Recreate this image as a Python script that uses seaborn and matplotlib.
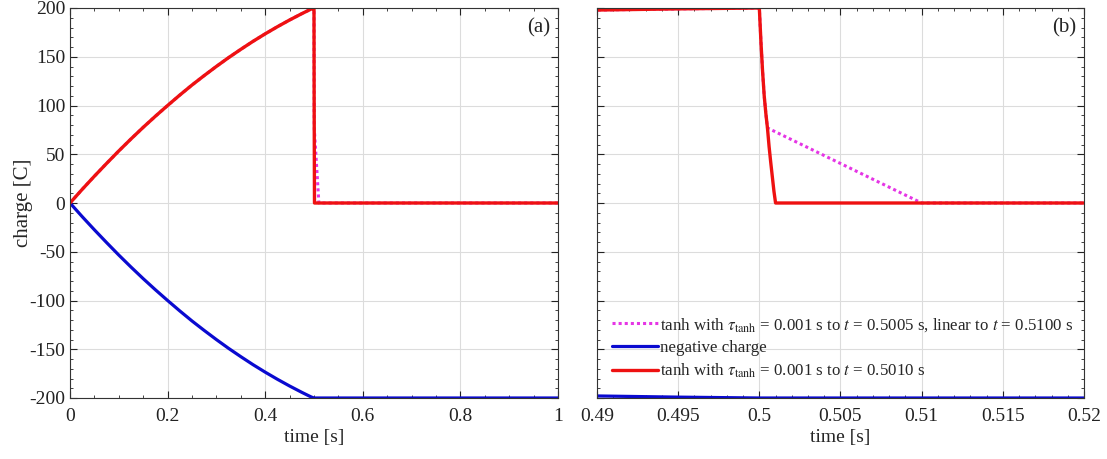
import numpy as np
import pandas as pd
import matplotlib
matplotlib.use("Agg")
import matplotlib.pyplot as plt
from matplotlib.ticker import MultipleLocator
import seaborn as sns

# ---- data -------------------------------------------------------------
# charging phase, 0 .. 0.5 s
t_charge = [0.0, 0.025, 0.05, 0.075, 0.10, 0.125, 0.15, 0.175, 0.20, 0.225,
            0.25, 0.275, 0.30, 0.325, 0.35, 0.375, 0.40, 0.425, 0.45, 0.475,
            0.49, 0.495, 0.50]
q_pos_charge = [0.0, 14.0, 27.5, 40.6, 53.4, 65.7, 77.6, 89.0, 100.0, 110.7,
                121.0, 130.7, 140.1, 149.1, 157.6, 165.8, 173.5, 180.8, 187.7, 194.2,
                197.9, 199.1, 200.0]
q_neg_charge = [0.0, -14.0, -27.5, -40.6, -53.4, -65.7, -77.6, -89.0, -100.0, -110.7,
                -121.0, -130.7, -140.1, -149.1, -157.6, -165.8, -173.5, -180.8, -187.7, -194.2,
                -197.9, -199.1, -200.0]

# tanh discharge of the positive charge (tau = 0.001 s)
t_tanh = [0.5001, 0.5002, 0.5003, 0.5004, 0.5005, 0.5006, 0.5007, 0.5008, 0.5009, 0.5010]
q_tanh = [165, 135, 110, 92, 77, 58, 42, 27, 12, 0]

# tanh to 0.5005 s, then linear to 0.5100 s
t_lin = [0.5100, 1.0]
q_lin = [0, 0]

t_end = 1.0

# ---- assemble series ---------------------------------------------------
n_tanh = t_tanh.index(0.5005) + 1
t_mag = t_charge + t_tanh[:n_tanh] + t_lin
q_mag = q_pos_charge + q_tanh[:n_tanh] + q_lin

t_red = t_charge + t_tanh + [t_end]
q_red = q_pos_charge + q_tanh + [0]

t_blue = t_charge + [t_end]
q_blue = q_neg_charge + [-200]

lab_mag = (r"tanh with $\tau_{\mathrm{tanh}}$ = 0.001 s to $t$ = 0.5005 s, "
           r"linear to $t$ = 0.5100 s")
lab_blue = "negative charge"
lab_red = r"tanh with $\tau_{\mathrm{tanh}}$ = 0.001 s to $t$ = 0.5010 s"

df = pd.concat([
    pd.DataFrame({"time": t_mag, "charge": q_mag, "series": lab_mag}),
    pd.DataFrame({"time": t_blue, "charge": q_blue, "series": lab_blue}),
    pd.DataFrame({"time": t_red, "charge": q_red, "series": lab_red}),
], ignore_index=True)

# ---- style -------------------------------------------------------------
sns.set_theme(style="ticks")
plt.rcParams["font.family"] = ["Liberation Serif", "DejaVu Serif"]
plt.rcParams["mathtext.fontset"] = "stix"
plt.rcParams["axes.unicode_minus"] = False

palette = {lab_mag: "#e535e5", lab_blue: "#0a0ad0", lab_red: "#ee1111"}
widths = {lab_mag: 2.2, lab_blue: 2.3, lab_red: 2.4}
styles = {lab_mag: (0, (1, 1)), lab_blue: "-", lab_red: "-"}

fig = plt.figure(figsize=(11.07, 4.59), dpi=100)
ax_a = fig.add_axes([70 / 1107, 61 / 459, 488 / 1107, 390 / 459])
ax_b = fig.add_axes([597 / 1107, 61 / 459, 487 / 1107, 390 / 459])

for ax in (ax_a, ax_b):
    for name in [lab_mag, lab_blue, lab_red]:
        sub = df[df["series"] == name]
        sns.lineplot(data=sub, x="time", y="charge", ax=ax, color=palette[name],
                     linewidth=widths[name], linestyle=styles[name], label=name,
                     sort=False, estimator=None, legend=False)
    ax.set_ylim(-200, 200)
    ax.yaxis.set_major_locator(MultipleLocator(50))
    ax.yaxis.set_minor_locator(MultipleLocator(10))
    ax.grid(True, which="major", color="#dcdcdc", linewidth=0.8)
    ax.tick_params(which="both", direction="in", top=True, right=True,
                   labelsize=14, colors="#222222")
    ax.tick_params(which="major", length=5, width=0.8)
    ax.tick_params(which="minor", length=2.5, width=0.6)
    ax.tick_params(axis="x", which="major", pad=7)
    for sp in ax.spines.values():
        sp.set_color("#333333")
        sp.set_linewidth(0.8)
    ax.set_xlabel("time [s]", fontsize=14, labelpad=3)

# panel (a)
ax_a.set_xlim(0, 1)
ax_a.xaxis.set_minor_locator(MultipleLocator(0.05))
ax_a.set_xticks([0, 0.2, 0.4, 0.6, 0.8, 1.0])
ax_a.set_xticklabels(["0", "0.2", "0.4", "0.6", "0.8", "1"])
ax_a.set_ylabel("charge [C]", fontsize=15, labelpad=-3)
ax_a.text(0.985, 0.975, "(a)", transform=ax_a.transAxes, ha="right", va="top",
          fontsize=15)

# panel (b)
ax_b.set_xlim(0.49, 0.52)
ax_b.set_xticks([0.49, 0.495, 0.50, 0.505, 0.51, 0.515, 0.52])
ax_b.set_xticklabels(["0.49", "0.495", "0.5", "0.505", "0.51", "0.515", "0.52"])
ax_b.xaxis.set_minor_locator(MultipleLocator(0.001))
ax_b.set_ylabel("")
ax_b.tick_params(axis="y", labelleft=False)
ax_b.text(0.985, 0.975, "(b)", transform=ax_b.transAxes, ha="right", va="top",
          fontsize=15)

handles, labels = ax_b.get_legend_handles_labels()
leg = ax_b.legend(handles, labels, loc="lower left", bbox_to_anchor=(0.01, 0.02),
                  frameon=False, fontsize=12.2, handlelength=2.7,
                  handletextpad=0.15, labelspacing=0.35, borderaxespad=0.2)

fig.savefig("out.png", dpi=100)
